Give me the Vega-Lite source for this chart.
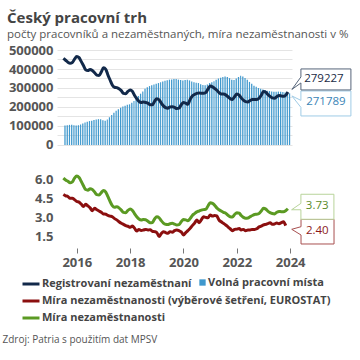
{
"$schema": "https://vega.github.io/schema/vega-lite/v6.json",
"width": 235, "height": 189,
"autosize": {"type": "none"},
"padding": {"left": 57, "top": 50, "right": 68, "bottom": 121},
"background": "white",
"title": {"text": "Český pracovní trh", "subtitle": "počty pracovníků a nezaměstnaných, míra nezaměstnanosti v %", "anchor": "start", "frame": "group", "dx": -50, "font": "Open Sans", "fontSize": 15, "fontWeight": "bold", "color": "#444444", "subtitleFont": "Open Sans", "subtitleFontSize": 11.5, "subtitleColor": "#555555", "subtitlePadding": 3, "offset": 4},
"config": {
  "view": {"stroke": null},
  "axis": {"labelFont": "Open Sans", "labelFontWeight": "bold", "labelFontSize": 13, "labelColor": "#555555", "gridColor": "#e4e4e4", "gridWidth": 1, "domain": false, "ticks": false, "labelOverlap": false, "labelFlush": false},
  "legend": {"labelFont": "Open Sans", "labelFontSize": 11, "labelFontWeight": "bold", "labelColor": "#444444", "labelLimit": 400}
},
"datasets": {
"m": [
{"date":"2015-07-01","reg":456000,"vol":102000,"mira":6.15,"eu":4.85},
{"date":"2015-08-01","reg":446000,"vol":104000,"mira":6.00,"eu":4.75},
{"date":"2015-09-01","reg":436000,"vol":106000,"mira":5.90,"eu":4.70},
{"date":"2015-10-01","reg":430000,"vol":106000,"mira":5.78,"eu":4.55},
{"date":"2015-11-01","reg":434000,"vol":104000,"mira":5.85,"eu":4.55},
{"date":"2015-12-01","reg":452000,"vol":103000,"mira":6.15,"eu":4.45},
{"date":"2016-01-01","reg":466000,"vol":104000,"mira":6.32,"eu":4.30},
{"date":"2016-02-01","reg":460000,"vol":108000,"mira":6.20,"eu":4.25},
{"date":"2016-03-01","reg":440000,"vol":113000,"mira":5.90,"eu":4.10},
{"date":"2016-04-01","reg":418000,"vol":118000,"mira":5.55,"eu":3.90},
{"date":"2016-05-01","reg":396000,"vol":122000,"mira":5.25,"eu":4.08},
{"date":"2016-06-01","reg":392000,"vol":126000,"mira":5.20,"eu":3.95},
{"date":"2016-07-01","reg":398000,"vol":128000,"mira":5.30,"eu":3.80},
{"date":"2016-08-01","reg":392000,"vol":131000,"mira":5.25,"eu":3.58},
{"date":"2016-09-01","reg":380000,"vol":134000,"mira":5.05,"eu":3.76},
{"date":"2016-10-01","reg":368000,"vol":136000,"mira":4.85,"eu":3.65},
{"date":"2016-11-01","reg":366000,"vol":135000,"mira":4.82,"eu":3.55},
{"date":"2016-12-01","reg":384000,"vol":130000,"mira":5.00,"eu":3.45},
{"date":"2017-01-01","reg":406000,"vol":128000,"mira":5.18,"eu":3.32},
{"date":"2017-02-01","reg":398000,"vol":134000,"mira":5.05,"eu":3.30},
{"date":"2017-03-01","reg":370000,"vol":146000,"mira":4.70,"eu":3.20},
{"date":"2017-04-01","reg":342000,"vol":158000,"mira":4.30,"eu":3.15},
{"date":"2017-05-01","reg":316000,"vol":170000,"mira":3.98,"eu":3.10},
{"date":"2017-06-01","reg":304000,"vol":180000,"mira":3.85,"eu":2.95},
{"date":"2017-07-01","reg":302000,"vol":188000,"mira":3.88,"eu":2.85},
{"date":"2017-08-01","reg":296000,"vol":196000,"mira":3.80,"eu":2.70},
{"date":"2017-09-01","reg":286000,"vol":202000,"mira":3.62,"eu":2.58},
{"date":"2017-10-01","reg":272000,"vol":207000,"mira":3.45,"eu":2.50},
{"date":"2017-11-01","reg":270000,"vol":212000,"mira":3.42,"eu":2.40},
{"date":"2017-12-01","reg":282000,"vol":214000,"mira":3.60,"eu":2.35},
{"date":"2018-01-01","reg":290000,"vol":222000,"mira":3.72,"eu":2.26},
{"date":"2018-02-01","reg":282000,"vol":232000,"mira":3.60,"eu":2.37},
{"date":"2018-03-01","reg":262000,"vol":244000,"mira":3.35,"eu":2.20},
{"date":"2018-04-01","reg":244000,"vol":258000,"mira":3.10,"eu":1.97},
{"date":"2018-05-01","reg":230000,"vol":270000,"mira":2.92,"eu":2.10},
{"date":"2018-06-01","reg":224000,"vol":282000,"mira":2.84,"eu":2.02},
{"date":"2018-07-01","reg":226000,"vol":296000,"mira":2.88,"eu":2.05},
{"date":"2018-08-01","reg":224000,"vol":304000,"mira":2.86,"eu":2.10},
{"date":"2018-09-01","reg":220000,"vol":310000,"mira":2.75,"eu":2.05},
{"date":"2018-10-01","reg":212000,"vol":314000,"mira":2.63,"eu":2.08},
{"date":"2018-11-01","reg":212000,"vol":318000,"mira":2.65,"eu":1.95},
{"date":"2018-12-01","reg":230000,"vol":322000,"mira":2.92,"eu":1.92},
{"date":"2019-01-01","reg":244000,"vol":326000,"mira":3.10,"eu":1.85},
{"date":"2019-02-01","reg":238000,"vol":330000,"mira":3.02,"eu":1.53},
{"date":"2019-03-01","reg":222000,"vol":334000,"mira":2.80,"eu":1.75},
{"date":"2019-04-01","reg":206000,"vol":338000,"mira":2.60,"eu":1.92},
{"date":"2019-05-01","reg":197000,"vol":341000,"mira":2.50,"eu":1.85},
{"date":"2019-06-01","reg":194000,"vol":344000,"mira":2.48,"eu":1.79},
{"date":"2019-07-01","reg":200000,"vol":345000,"mira":2.55,"eu":1.92},
{"date":"2019-08-01","reg":201000,"vol":348000,"mira":2.58,"eu":1.88},
{"date":"2019-09-01","reg":198000,"vol":347000,"mira":2.52,"eu":2.00},
{"date":"2019-10-01","reg":192000,"vol":344000,"mira":2.45,"eu":2.05},
{"date":"2019-11-01","reg":194000,"vol":342000,"mira":2.48,"eu":2.00},
{"date":"2019-12-01","reg":212000,"vol":340000,"mira":2.70,"eu":1.90},
{"date":"2020-01-01","reg":224000,"vol":342000,"mira":2.88,"eu":1.66},
{"date":"2020-02-01","reg":220000,"vol":344000,"mira":2.85,"eu":1.85},
{"date":"2020-03-01","reg":214000,"vol":340000,"mira":2.78,"eu":2.00},
{"date":"2020-04-01","reg":240000,"vol":334000,"mira":2.95,"eu":2.18},
{"date":"2020-05-01","reg":258000,"vol":330000,"mira":3.20,"eu":2.40},
{"date":"2020-06-01","reg":266000,"vol":328000,"mira":3.35,"eu":2.60},
{"date":"2020-07-01","reg":272000,"vol":326000,"mira":3.48,"eu":2.84},
{"date":"2020-08-01","reg":274000,"vol":320000,"mira":3.55,"eu":2.63},
{"date":"2020-09-01","reg":272000,"vol":316000,"mira":3.62,"eu":2.85},
{"date":"2020-10-01","reg":272000,"vol":315000,"mira":3.66,"eu":3.10},
{"date":"2020-11-01","reg":276000,"vol":318000,"mira":3.68,"eu":3.05},
{"date":"2020-12-01","reg":294000,"vol":326000,"mira":3.95,"eu":3.02},
{"date":"2021-01-01","reg":310000,"vol":330000,"mira":4.20,"eu":3.24},
{"date":"2021-02-01","reg":306000,"vol":336000,"mira":4.15,"eu":3.15},
{"date":"2021-03-01","reg":298000,"vol":344000,"mira":4.02,"eu":3.20},
{"date":"2021-04-01","reg":288000,"vol":350000,"mira":3.80,"eu":3.16},
{"date":"2021-05-01","reg":276000,"vol":354000,"mira":3.65,"eu":2.84},
{"date":"2021-06-01","reg":268000,"vol":358000,"mira":3.55,"eu":2.70},
{"date":"2021-07-01","reg":268000,"vol":360000,"mira":3.45,"eu":2.58},
{"date":"2021-08-01","reg":264000,"vol":358000,"mira":3.38,"eu":2.45},
{"date":"2021-09-01","reg":254000,"vol":352000,"mira":3.22,"eu":2.30},
{"date":"2021-10-01","reg":244000,"vol":344000,"mira":3.10,"eu":2.15},
{"date":"2021-11-01","reg":240000,"vol":342000,"mira":3.08,"eu":2.00},
{"date":"2021-12-01","reg":254000,"vol":350000,"mira":3.28,"eu":2.10},
{"date":"2022-01-01","reg":268000,"vol":358000,"mira":3.42,"eu":2.12},
{"date":"2022-02-01","reg":262000,"vol":364000,"mira":3.38,"eu":2.18},
{"date":"2022-03-01","reg":248000,"vol":360000,"mira":3.20,"eu":2.05},
{"date":"2022-04-01","reg":236000,"vol":352000,"mira":3.05,"eu":2.10},
{"date":"2022-05-01","reg":228000,"vol":344000,"mira":2.98,"eu":2.00},
{"date":"2022-06-01","reg":226000,"vol":332000,"mira":3.00,"eu":2.05},
{"date":"2022-07-01","reg":234000,"vol":322000,"mira":3.10,"eu":2.05},
{"date":"2022-08-01","reg":240000,"vol":312000,"mira":3.20,"eu":2.10},
{"date":"2022-09-01","reg":240000,"vol":306000,"mira":3.28,"eu":2.10},
{"date":"2022-10-01","reg":240000,"vol":300000,"mira":3.30,"eu":2.15},
{"date":"2022-11-01","reg":246000,"vol":296000,"mira":3.35,"eu":2.30},
{"date":"2022-12-01","reg":262000,"vol":292000,"mira":3.55,"eu":2.35},
{"date":"2023-01-01","reg":282000,"vol":290000,"mira":3.76,"eu":2.45},
{"date":"2023-02-01","reg":278000,"vol":286000,"mira":3.70,"eu":2.50},
{"date":"2023-03-01","reg":266000,"vol":284000,"mira":3.55,"eu":2.55},
{"date":"2023-04-01","reg":256000,"vol":282000,"mira":3.42,"eu":2.63},
{"date":"2023-05-01","reg":248000,"vol":280000,"mira":3.35,"eu":2.50},
{"date":"2023-06-01","reg":246000,"vol":280000,"mira":3.32,"eu":2.53},
{"date":"2023-07-01","reg":254000,"vol":281000,"mira":3.45,"eu":2.60},
{"date":"2023-08-01","reg":260000,"vol":280000,"mira":3.52,"eu":2.55},
{"date":"2023-09-01","reg":258000,"vol":279000,"mira":3.50,"eu":2.63},
{"date":"2023-10-01","reg":256000,"vol":276000,"mira":3.50,"eu":2.70},
{"date":"2023-11-01","reg":262000,"vol":274000,"mira":3.58,"eu":2.40},
{"date":"2023-12-01","reg":279227,"vol":271789,"mira":3.73}
],
"ends": [
{"date":"2023-12-01","s":"reg","val":279227},
{"date":"2023-12-01","s":"vol","val":271789},
{"date":"2023-12-01","s":"mira","val":3.73},
{"date":"2023-11-01","s":"eu","val":2.40}
]
},
"data": {"name": "m"},
"encoding": {
  "x": {"field": "date", "type": "temporal", "timeUnit": "utcyearmonth",
    "scale": {"domain": [{"year": 2015, "month": 4, "date": 5, "utc": true}, {"year": 2024, "month": 1, "date": 26, "utc": true}]},
    "axis": {"values": [{"year": 2016, "utc": true}, {"year": 2018, "utc": true}, {"year": 2020, "utc": true}, {"year": 2022, "utc": true}, {"year": 2024, "utc": true}],
      "format": "%Y", "grid": false, "ticks": true, "tickSize": 5, "tickColor": "#777777", "offset": 9, "labelPadding": 3,
      "title": "Zdroj: Patria s použitím dat MPSV", "titleAnchor": "start", "titleAlign": "left", "titleX": -55, "titleY": 94, "titleBaseline": "alphabetic",
      "titleFont": "Open Sans", "titleFontSize": 10, "titleFontWeight": "normal", "titleColor": "#555555"}
  }
},
"layer": [
 {
  "encoding": {
    "y": {"field": "val", "type": "quantitative",
      "scale": {"domain": [-494737, 500000], "nice": false, "zero": false},
      "axis": {"orient": "left", "title": null, "format": "d", "labelPadding": 4,
        "values": [0,50000,100000,150000,200000,250000,300000,350000,400000,450000,500000],
        "labelExpr": "datum.value % 100000 === 0 ? datum.label : ''"}}
  },
  "layer": [
    {"transform": [{"fold": ["vol"], "as": ["k", "val"]}],
     "mark": {"type": "bar", "timeUnitBandSize": 0.7},
     "encoding": {"fill": {"datum": "Volná pracovní místa", "scale": {"range": ["#3f98cd"]},
        "legend": {"orient": "none", "legendX": 140, "legendY": 227, "title": null, "symbolType": "square", "symbolSize": 40, "symbolStrokeWidth": 0, "labelOffset": 0}}}},
    {"transform": [{"fold": ["reg"], "as": ["k", "val"]}],
     "mark": {"type": "line", "strokeWidth": 3, "interpolate": "monotone", "timeUnitBandPosition": 0.5},
     "encoding": {"color": {"datum": "Registrovaní nezaměstnaní",
        "scale": {"domain": ["Registrovaní nezaměstnaní", "Míra nezaměstnanosti (výběrové šetření, EUROSTAT)", "Míra nezaměstnanosti"], "range": ["#12294a", "#8b0f0f", "#5b9a23"]},
        "legend": {"orient": "none", "legendX": -36, "legendY": 224, "title": null, "direction": "vertical", "symbolType": "stroke", "symbolSize": 289, "symbolStrokeWidth": 3, "rowPadding": 1, "labelOffset": 1}}}},
    {"data": {"name": "ends"}, "transform": [{"filter": "datum.s === 'vol'"}],
     "mark": {"type": "point", "filled": true, "fill": "white", "stroke": "#9fcbe6", "strokeWidth": 1, "opacity": 1, "size": 400, "timeUnitBandPosition": 0.5,
       "shape": "M1.3,-0.24H6.3V2.26H1.3V1.4L0.4,0.26L1.3,0.7Z"}},
    {"data": {"name": "ends"}, "transform": [{"filter": "datum.s === 'reg'"}],
     "mark": {"type": "point", "filled": true, "fill": "white", "stroke": "#56657a", "strokeWidth": 1, "opacity": 1, "size": 400, "timeUnitBandPosition": 0.5,
       "shape": "M1.3,-2.3H6.3V-0.2H1.3V-0.9L0.4,-0.25L1.3,-1.5Z"}},
    {"data": {"name": "ends"}, "transform": [{"filter": "datum.s === 'reg'"}],
     "mark": {"type": "text", "dx": 36, "dy": -12.7, "align": "center", "baseline": "middle", "font": "Open Sans", "fontSize": 11.5, "color": "#1a2b45", "timeUnitBandPosition": 0.5},
     "encoding": {"text": {"field": "val", "type": "quantitative", "format": "d"}}},
    {"data": {"name": "ends"}, "transform": [{"filter": "datum.s === 'vol'"}],
     "mark": {"type": "text", "dx": 38, "dy": 8.9, "align": "center", "baseline": "middle", "font": "Open Sans", "fontSize": 11.5, "color": "#3a84b6", "timeUnitBandPosition": 0.5},
     "encoding": {"text": {"field": "val", "type": "quantitative", "format": "d"}}}
  ]
 },
 {
  "encoding": {
    "y": {"field": "val", "type": "quantitative",
      "scale": {"domain": [1.342, 16.263], "nice": false, "zero": false},
      "axis": {"orient": "left", "title": null, "format": ".1f", "labelPadding": 4,
        "values": [1.5,2,2.5,3,3.5,4,4.5,5,5.5,6,6.5],
        "labelExpr": "indexof([1.5,3,4.5,6], datum.value) >= 0 ? datum.label : ''"}}
  },
  "layer": [
    {"transform": [{"fold": ["eu"], "as": ["k", "val"]}],
     "mark": {"type": "line", "strokeWidth": 3, "interpolate": "monotone", "timeUnitBandPosition": 0.5},
     "encoding": {"color": {"datum": "Míra nezaměstnanosti (výběrové šetření, EUROSTAT)"}}},
    {"transform": [{"fold": ["mira"], "as": ["k", "val"]}],
     "mark": {"type": "line", "strokeWidth": 3, "interpolate": "monotone", "timeUnitBandPosition": 0.5},
     "encoding": {"color": {"datum": "Míra nezaměstnanosti"}}},
    {"data": {"name": "ends"}, "transform": [{"filter": "datum.s === 'eu'"}],
     "mark": {"type": "point", "filled": true, "fill": "white", "stroke": "#a85050", "strokeWidth": 1, "opacity": 1, "size": 400, "timeUnitBandPosition": 0.5,
       "shape": "M1.53,-0.63H4.83V1.84H1.53V0.94L0.6,0.37L1.53,0.11Z"}},
    {"data": {"name": "ends"}, "transform": [{"filter": "datum.s === 'mira'"}],
     "mark": {"type": "point", "filled": true, "fill": "white", "stroke": "#b8d49a", "strokeWidth": 1, "opacity": 1, "size": 400, "timeUnitBandPosition": 0.5,
       "shape": "M1.3,-1.45H4.6V1.05H1.3V0.1L0.37,0.1L1.3,-0.54Z"}},
    {"data": {"name": "ends"}, "transform": [{"filter": "datum.s === 'mira'"}],
     "mark": {"type": "text", "dx": 29.3, "dy": -3, "align": "center", "baseline": "middle", "font": "Open Sans", "fontSize": 11.5, "color": "#5a8a2a", "timeUnitBandPosition": 0.5},
     "encoding": {"text": {"field": "val", "type": "quantitative", "format": ".2f"}}},
    {"data": {"name": "ends"}, "transform": [{"filter": "datum.s === 'eu'"}],
     "mark": {"type": "text", "dx": 31.6, "dy": 5.4, "align": "center", "baseline": "middle", "font": "Open Sans", "fontSize": 11.5, "color": "#8b1a1a", "timeUnitBandPosition": 0.5},
     "encoding": {"text": {"field": "val", "type": "quantitative", "format": ".2f"}}}
  ]
 }
],
"resolve": {"scale": {"y": "independent"}}
}
